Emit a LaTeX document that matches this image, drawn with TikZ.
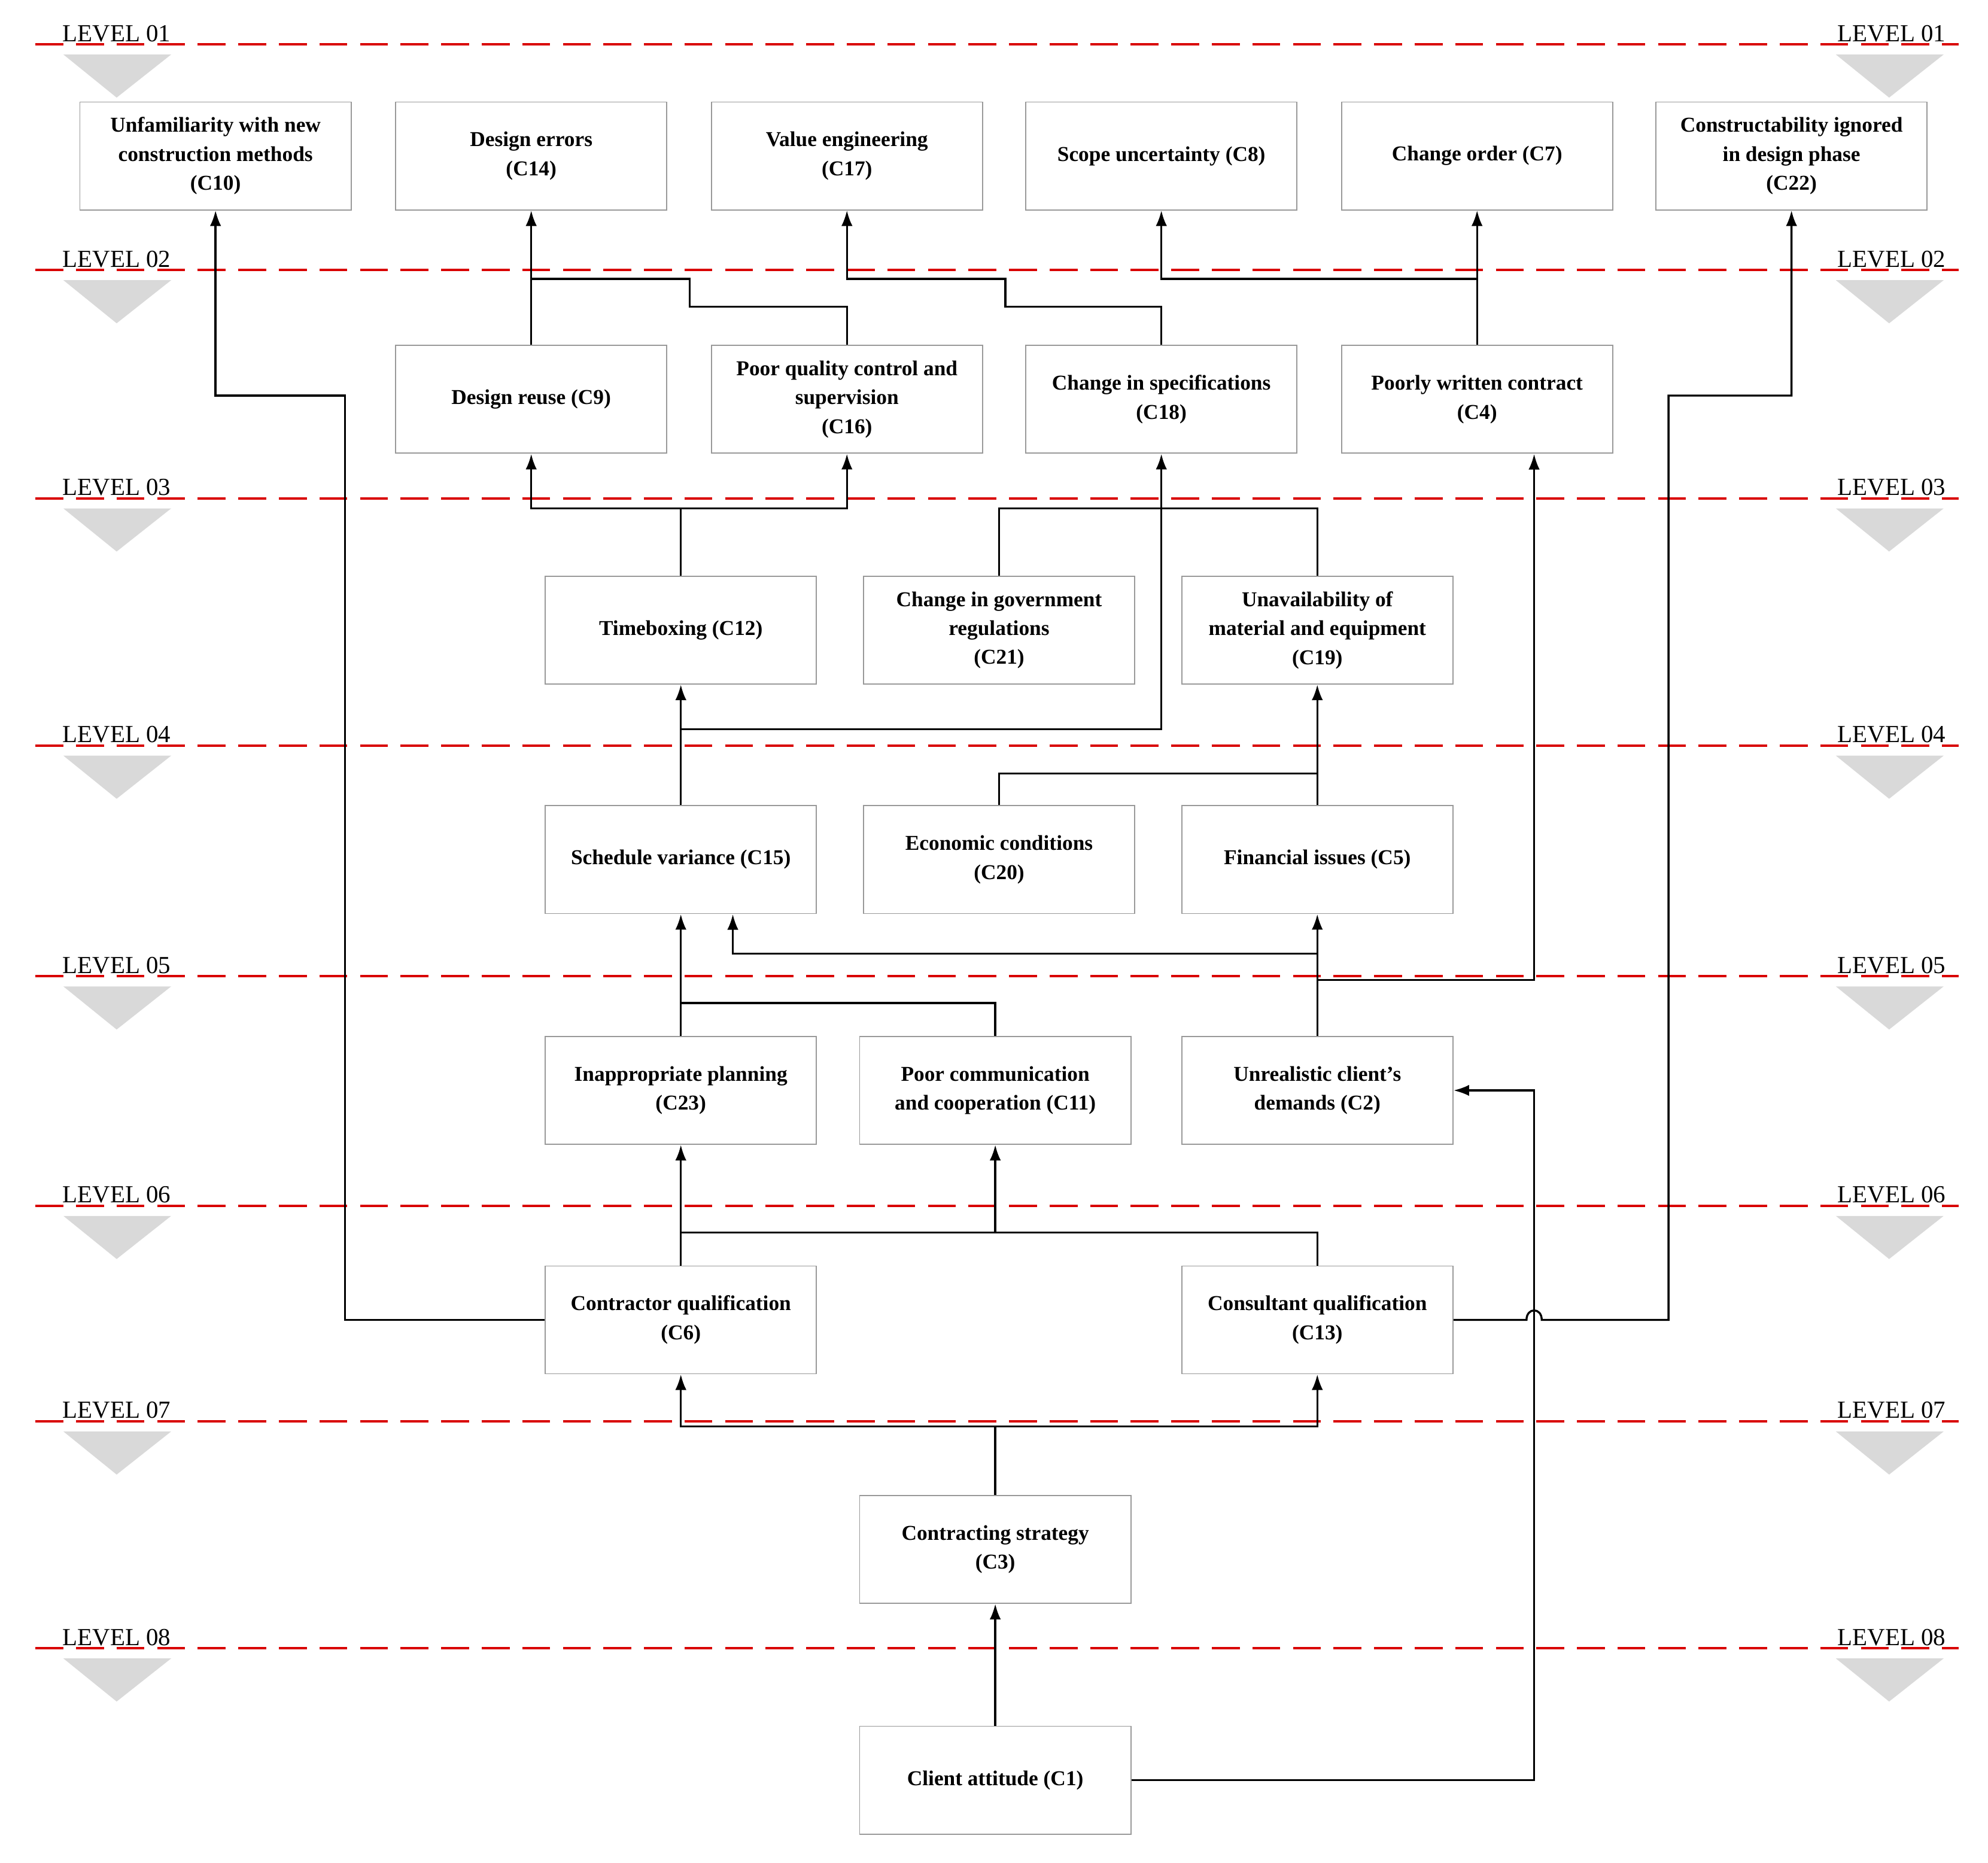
\documentclass[tikz,border=0pt]{standalone}
\usepackage{fontspec}
\setmainfont{Liberation Serif}
\usetikzlibrary{arrows.meta}
\begin{document}
\begin{tikzpicture}[x=0.02cm,y=-0.02cm,
 box/.style={draw=black!40,line width=0.5pt,minimum width=4.28cm,minimum height=1.7cm,align=center,font=\fontsize{9.5}{13}\selectfont\bfseries,inner sep=1pt},
 con/.style={line width=0.9pt},
 arr/.style={con,-{Latex[length=7pt,width=5pt]}},
 lvl/.style={red!85!black,line width=1.1pt,dash pattern=on 0.44cm off 0.2cm},
 tri/.style={fill=black!15,draw=none},
 lab/.style={font=\fontsize{11}{11}\selectfont,anchor=south,inner sep=1pt}]
\useasboundingbox (0,0) rectangle (1568,1469);
% levels
\foreach \y/\n in {35/01,213/02,393/03,588/04,770/05,951/06,1121/07,1300/08}{
 \draw[lvl] (28,\y) -- (1545,\y);
 \node[lab] (ll\n) at (92,\y) {LEVEL \n};
 \node[lab] (lr\n) at (1492,\y) {LEVEL \n};
 \fill[tri] (50,\y+8) -- (135,\y+8) -- (92,\y+42) -- cycle;
 \fill[tri] (1448,\y+8) -- (1533,\y+8) -- (1490,\y+42) -- cycle;
}
% boxes
\node[box] (c10) at (170,123) {Unfamiliarity with new\\construction methods\\(C10)};
\node[box] (c14) at (419,123) {Design errors\\(C14)};
\node[box] (c17) at (668,123) {Value engineering\\(C17)};
\node[box] (c8) at (916,123) {Scope uncertainty (C8)};
\node[box] (c7) at (1165,123) {Change order (C7)};
\node[box] (c22) at (1413,123) {Constructability ignored\\in design phase\\(C22)};
\node[box] (c9) at (419,315) {Design reuse (C9)};
\node[box] (c16) at (668,315) {Poor quality control and\\supervision\\(C16)};
\node[box] (c18) at (916,315) {Change in specifications\\(C18)};
\node[box] (c4) at (1165,315) {Poorly written contract\\(C4)};
\node[box] (c12) at (537,497) {Timeboxing (C12)};
\node[box] (c21) at (788,497) {Change in government\\regulations\\(C21)};
\node[box] (c19) at (1039,497) {Unavailability of\\material and equipment\\(C19)};
\node[box] (c15) at (537,678) {Schedule variance (C15)};
\node[box] (c20) at (788,678) {Economic conditions\\(C20)};
\node[box] (c5) at (1039,678) {Financial issues (C5)};
\node[box] (c23) at (537,860) {Inappropriate planning\\(C23)};
\node[box] (c11) at (785,860) {Poor communication\\and cooperation (C11)};
\node[box] (c2) at (1039,860) {Unrealistic client's\\demands (C2)};
\node[box] (c6) at (537,1041) {Contractor qualification\\(C6)};
\node[box] (c13) at (1039,1041) {Consultant qualification\\(C13)};
\node[box] (c3) at (785,1222) {Contracting strategy\\(C3)};
\node[box] (c1) at (785,1404) {Client attitude (C1)};
% connectors
\draw[arr] (c6.west) -- (272,1041) -- (272,312) -- (170,312) -- (c10.south);
\draw[arr] (c9.north) -- (c14.south);
\draw[con] (c16.north) -- (668,242) -- (544,242) -- (544,220) -- (419,220);
\draw[arr] (c18.north) -- (916,242) -- (793,242) -- (793,220) -- (668,220) -- (c17.south);
\draw[arr] (c4.north) -- (c7.south);
\draw[arr] (1165,220) -- (916,220) -- (c8.south);
\draw[arr] (c13.east) -- (1204,1041) .. controls (1204,1031) and (1216,1031) .. (1216,1041) -- (1316,1041) -- (1316,312) -- (1413,312) -- (c22.south);
\draw[arr] (c12.north) -- (537,401) -- (419,401) -- (c9.south);
\draw[arr] (537,401) -- (668,401) -- (c16.south);
\draw[con] (c21.north) -- (788,401) -- (1039,401) -- (c19.north);
\draw[arr] (c15.north) -- (c12.south);
\draw[arr] (537,575) -- (916,575) -- (c18.south);
\draw[con] (c20.north) -- (788,610) -- (1039,610);
\draw[arr] (c5.north) -- (c19.south);
\draw[arr] (c2.north) -- (c5.south);
\draw[arr] (1039,752) -- (578,752) -- (578,721);
\draw[arr] (1039,773) -- (1210,773) -- (1210,358);
\draw[arr] (c23.north) -- (c15.south);
\draw[con] (537,791) -- (785,791) -- (c11.north);
\draw[arr] (c6.north) -- (c23.south);
\draw[con] (537,972) -- (1039,972) -- (c13.north);
\draw[arr] (785,972) -- (c11.south);
\draw[arr] (c3.north) -- (785,1125) -- (537,1125) -- (c6.south);
\draw[arr] (785,1125) -- (1039,1125) -- (c13.south);
\draw[arr] (c1.north) -- (c3.south);
\draw[arr] (c1.east) -- (1210,1404) -- (1210,860) -- (c2.east);
\end{tikzpicture}
\end{document}
